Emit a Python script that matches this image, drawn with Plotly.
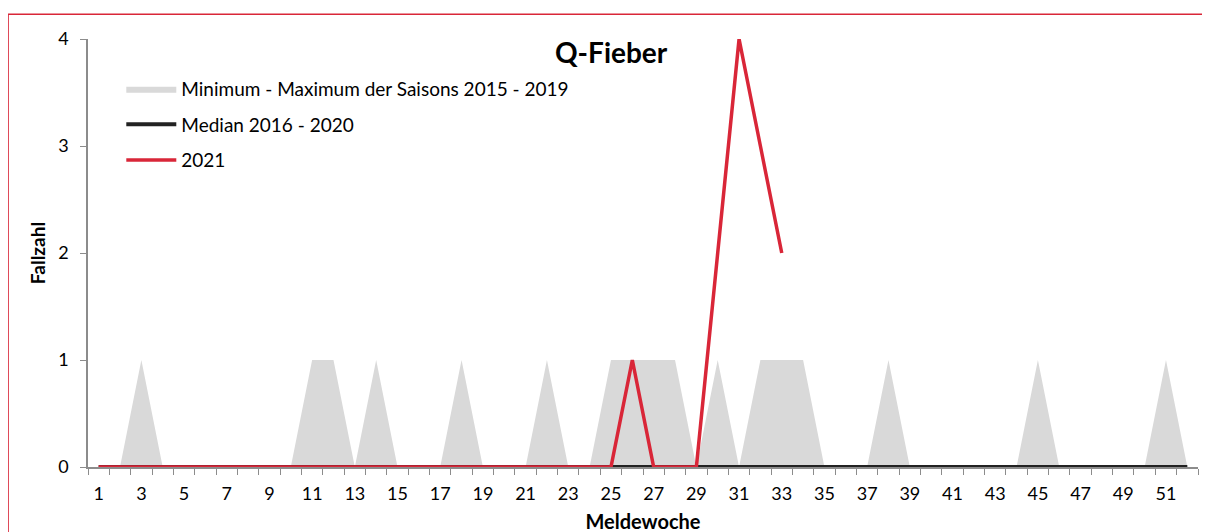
import plotly.graph_objects as go

weeks = list(range(1, 53))
range_min = [0] * 52
range_max = [0, 0, 1, 0, 0, 0, 0, 0, 0, 0,
             1, 1, 0, 1, 0, 0, 0, 1, 0, 0,
             0, 1, 0, 0, 1, 1, 1, 1, 0, 1,
             0, 1, 1, 1, 0, 0, 0, 1, 0, 0,
             0, 0, 0, 0, 1, 0, 0, 0, 0, 0,
             1, 0]
median = [0] * 52
weeks_2021 = list(range(1, 34))
cases_2021 = [0] * 25 + [1, 0, 0, 0, 2, 4, 3, 2]
x_labels = list(range(1, 53, 2))
y_ticks = [0, 1, 2, 3, 4]

FONT = "Lato, Carlito, Calibri, sans-serif"
RED = "#d92638"

fig = go.Figure()
fig.add_trace(go.Scatter(x=weeks, y=range_min, mode="lines", line=dict(width=0),
                         showlegend=False, hoverinfo="skip", legendgroup="a"))
fig.add_trace(go.Scatter(x=weeks, y=range_max, mode="lines", line=dict(width=0),
                         fill="tonexty", fillcolor="#d9d9d9",
                         name="Minimum - Maximum der Saisons 2015 - 2019", legendgroup="a"))
fig.add_trace(go.Scatter(x=weeks, y=median, mode="lines", line=dict(color="#222222", width=4),
                         name="Median 2016 - 2020", legendgroup="b"))
fig.add_trace(go.Scatter(x=weeks_2021, y=cases_2021, mode="lines", line=dict(color=RED, width=3.5),
                         name="2021", legendgroup="c"))

fig.update_layout(
    width=1210, height=532,
    margin=dict(l=80, r=20, t=31, b=73),
    paper_bgcolor="white", plot_bgcolor="white",
    font=dict(family=FONT, size=17, color="#000000"),
    showlegend=True,
    legend=dict(x=0.03, y=0.928, xanchor="left", yanchor="top",
                font=dict(size=19), bgcolor="rgba(0,0,0,0)", itemwidth=50,
                tracegroupgap=8, traceorder="grouped"),
    xaxis=dict(range=[0.5, 52.5], tickmode="array", tickvals=x_labels,
               ticktext=[str(v) for v in x_labels], ticks="", showgrid=False,
               showline=True, linecolor="#8c8c8c", linewidth=1.5, zeroline=False,
               tickfont=dict(size=18), ticklabelstandoff=10, automargin=False,
               minor=dict(ticks="outside", tick0=0.5, dtick=1, ticklen=6,
                          tickcolor="#8c8c8c", tickwidth=1.2, showgrid=False),
               title=dict(text="<b>Meldewoche</b>", font=dict(size=20), standoff=12)),
    yaxis=dict(range=[0, 4], tickmode="array", tickvals=y_ticks, ticks="outside",
               ticklen=6, tickcolor="#8c8c8c", tickwidth=1.2, showgrid=False,
               showline=True, linecolor="#8c8c8c", linewidth=1.5, zeroline=False,
               tickfont=dict(size=18), ticklabelstandoff=8, automargin=False,
               title=dict(text="<b>Fallzahl</b>", font=dict(size=19), standoff=8)),
)

fig.add_annotation(text="<b>Q-Fieber</b>", x=0.472, y=0.97, xref="paper", yref="paper",
                   xanchor="center", yanchor="middle", showarrow=False,
                   font=dict(size=28, family=FONT))

fig.add_shape(type="rect", xref="paper", yref="paper",
              x0=-0.072, x1=1.009, y0=-0.3, y1=1.058,
              line=dict(color=RED, width=1.5), fillcolor="rgba(0,0,0,0)", layer="above")

fig.write_html("out.html")
